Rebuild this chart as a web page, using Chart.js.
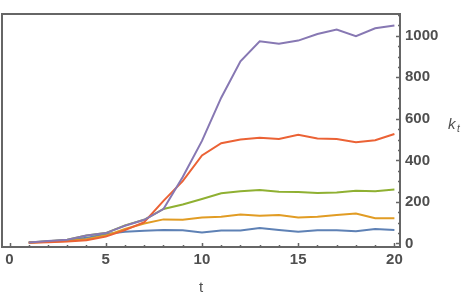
<!DOCTYPE html>
<html lang="en">
<head>
<meta charset="UTF-8">
<title>k_t over t</title>
<script src="https://cdn.jsdelivr.net/npm/chart.js"></script>
<style>
  html, body { margin: 0; padding: 0; background: #fff; }
  #wrap { width: 463px; height: 297px; position: relative; }
</style>
</head>
<body>
<div id="wrap"><canvas id="ktChart"></canvas></div>
<script>
// data
const tValues = [1, 2, 3, 4, 5, 6, 7, 8, 9, 10, 11, 12, 13, 14, 15, 16, 17, 18, 19, 20];
const blueSeries   = [5, 9, 15, 27, 46, 56, 61, 65, 64, 53, 62, 62, 74, 65, 56, 64, 64, 59, 70, 65];
const orangeSeries = [3, 8, 12, 20, 38, 70, 96, 116, 114, 125, 129, 140, 134, 137, 125, 129, 137, 144, 122, 122];
const greenSeries  = [5, 11, 18, 38, 50, 87, 114, 166, 188, 214, 242, 251, 257, 249, 248, 243, 246, 254, 252, 260];
const redSeries    = [3, 6, 9, 15, 33, 64, 103, 205, 300, 424, 483, 501, 509, 503, 523, 506, 503, 488, 497, 527];
const purpleSeries = [5, 12, 18, 38, 50, 85, 114, 166, 320, 494, 702, 877, 974, 962, 977, 1009, 1030, 998, 1036, 1050];
const xTicks = [0, 5, 10, 15, 20];
const yTicks = [0, 200, 400, 600, 800, 1000];

const frameColor = '#666666';
const labelColor = '#4f4f4f';
const tickFont = { family: 'Liberation Sans, Arial, sans-serif', size: 15, weight: 'bold' };

function pts(ys) {
    return tValues.map((t, i) => ({ x: t, y: ys[i] }));
}

function line(data, color, order) {
    return {
        data: pts(data),
        borderColor: color,
        borderWidth: 2,
        pointRadius: 0,
        tension: 0,
        fill: false,
        order: order
    };
}

// frame, inner ticks and axis labels
const framePlugin = {
    id: 'frame',
    afterDraw(chart) {
        const { ctx, chartArea: a, scales } = chart;
        const xs = scales.x, ys = scales.y;
        ctx.save();
        ctx.strokeStyle = frameColor;
        ctx.lineWidth = 2;
        ctx.strokeRect(a.left, a.top, a.right - a.left, a.bottom - a.top);

        ctx.lineWidth = 1.5;
        ctx.beginPath();
        for (let t = 0; t <= 20; t++) {
            const px = Math.round(xs.getPixelForValue(t)) + 0.5;
            const len = t % 5 === 0 ? 4 : 2;
            ctx.moveTo(px, a.bottom);
            ctx.lineTo(px, a.bottom - len);
        }
        for (let v = 0; v <= 1100; v += 50) {
            const py = Math.round(ys.getPixelForValue(v)) + 0.5;
            const len = v % 200 === 0 ? 4 : 2;
            ctx.moveTo(a.right, py);
            ctx.lineTo(a.right - len, py);
        }
        ctx.stroke();

        // axis labels
        ctx.fillStyle = labelColor;
        ctx.font = 'italic 15px "Liberation Sans", Arial, sans-serif';
        ctx.textAlign = 'left';
        ctx.textBaseline = 'alphabetic';
        ctx.fillText('k', 448, 129);
        ctx.font = 'italic 10px "Liberation Sans", Arial, sans-serif';
        ctx.fillText('t', 457, 132);

        ctx.font = '15px "Liberation Sans", Arial, sans-serif';
        ctx.textAlign = 'center';
        ctx.fillText('t', (a.left + a.right) / 2, 292);
        ctx.restore();
    }
};

new Chart(document.getElementById('ktChart'), {
    type: 'line',
    data: {
        datasets: [
            line(blueSeries, '#5E81B5', 5),
            line(orangeSeries, '#E19C24', 4),
            line(greenSeries, '#8FB032', 3),
            line(redSeries, '#EB6235', 2),
            line(purpleSeries, '#8778B3', 1)
        ]
    },
    options: {
        responsive: true,
        maintainAspectRatio: false,
        animation: false,
        layout: { padding: { left: 2, top: 1, right: 0, bottom: 0 } },
        plugins: {
            legend: { display: false },
            tooltip: { enabled: false }
        },
        scales: {
            x: {
                type: 'linear',
                min: -0.39,
                max: 20.29,
                grid: { display: false, drawTicks: false },
                border: { display: false },
                afterBuildTicks: s => { s.ticks = xTicks.map(v => ({ value: v })); },
                afterFit: s => { s.height = 50; },
                ticks: { color: labelColor, font: tickFont, padding: 4, maxRotation: 0, callback: v => String(v) }
            },
            y: {
                type: 'linear',
                position: 'right',
                min: -17,
                max: 1105,
                grid: { display: false, drawTicks: false },
                border: { display: false },
                afterBuildTicks: s => { s.ticks = yTicks.map(v => ({ value: v })); },
                afterFit: s => { s.width = 63; },
                ticks: { color: labelColor, font: tickFont, padding: 5, callback: v => String(v) }
            }
        }
    },
    plugins: [framePlugin]
});
</script>
</body>
</html>
